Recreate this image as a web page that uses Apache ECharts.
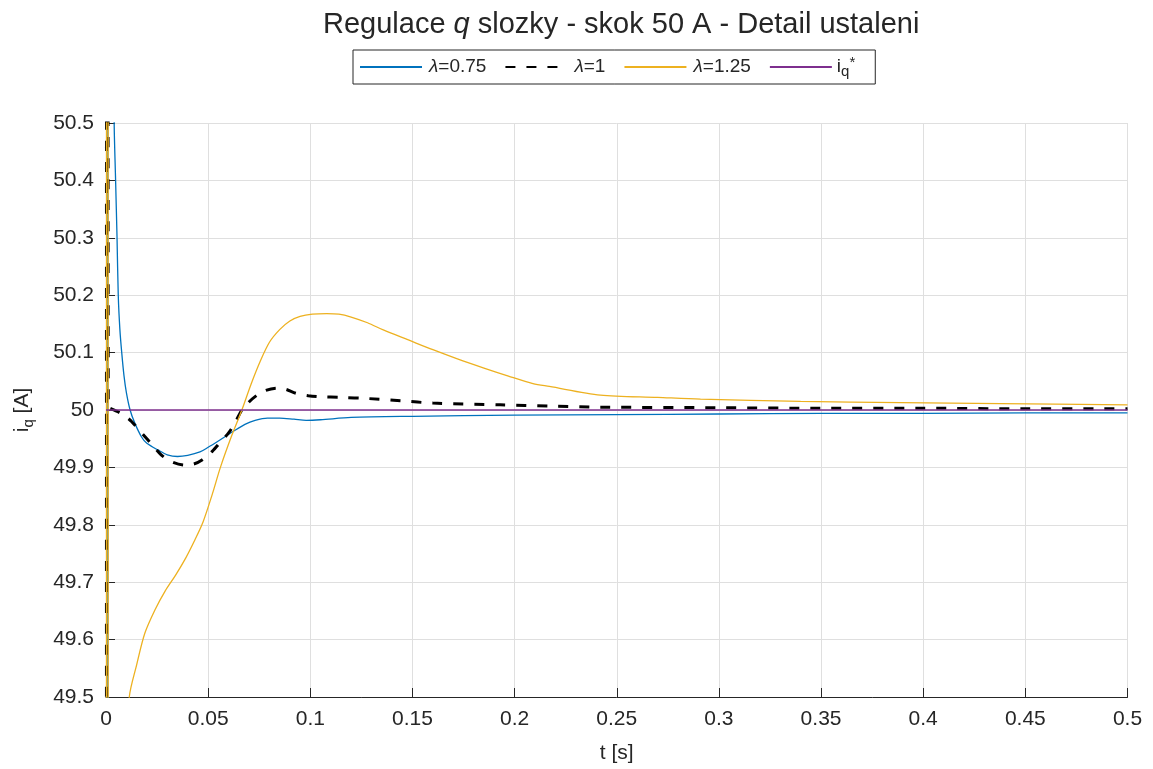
<!DOCTYPE html>
<html>
<head>
<meta charset="utf-8">
<script src="https://cdn.jsdelivr.net/npm/echarts@6/dist/echarts.min.js"></script>
<style>html,body{margin:0;padding:0;background:#fff}#c{width:1153px;height:769px}</style>
</head>
<body>
<div id="c"></div>
<script>
// ---- data ----
const xTicks = [0, 0.05, 0.1, 0.15, 0.2, 0.25, 0.3, 0.35, 0.4, 0.45, 0.5];
const yTicks = [49.5, 49.6, 49.7, 49.8, 49.9, 50, 50.1, 50.2, 50.3, 50.4, 50.5];

const tBlue = [0, 0.001, 0.002, 0.003, 0.004, 0.0047, 0.0054, 0.006, 0.0068, 0.0077, 0.0088, 0.010, 0.0118, 0.014, 0.0174, 0.020, 0.0256, 0.030, 0.035, 0.040, 0.046, 0.050, 0.055, 0.062, 0.068, 0.073, 0.079, 0.085, 0.092, 0.098, 0.105, 0.12, 0.15, 0.2, 0.25, 0.3, 0.35, 0.4, 0.45, 0.5];
const vBlue = [0, 54, 52, 51, 50.5, 50.4, 50.3, 50.2, 50.14, 50.1, 50.06, 50.03, 50.0, 49.978, 49.953, 49.942, 49.93, 49.922, 49.919, 49.921, 49.927, 49.935, 49.946, 49.962, 49.975, 49.982, 49.986, 49.986, 49.984, 49.982, 49.983, 49.987, 49.989, 49.991, 49.992, 49.993, 49.994, 49.994, 49.995, 49.995];

const tBlack = [0, 0.0004, 0.0011, 0.002, 0.0045, 0.0069, 0.0095, 0.0125, 0.018, 0.022, 0.027, 0.032, 0.0387, 0.043, 0.047, 0.052, 0.056, 0.060, 0.0635, 0.0665, 0.070, 0.074, 0.078, 0.0836, 0.088, 0.093, 0.099, 0.105, 0.115, 0.128, 0.145, 0.16, 0.193, 0.217, 0.242, 0.3, 0.35, 0.4, 0.45, 0.5];
const vBlack = [0, 58, 50.004, 50.003, 49.999, 49.995, 49.989, 49.98, 49.958, 49.942, 49.922, 49.91, 49.904, 49.906, 49.913, 49.928, 49.944, 49.96, 49.98, 50.0, 50.014, 50.026, 50.034, 50.038, 50.036, 50.029, 50.025, 50.023, 50.022, 50.02, 50.016, 50.012, 50.009, 50.007, 50.005, 50.004, 50.003, 50.003, 50.002, 50.002];

const tYellow = [0, 0.0004, 0.0008, 0.0013, 0.004, 0.008, 0.0114, 0.015, 0.019, 0.024, 0.029, 0.034, 0.039, 0.043, 0.0475, 0.052, 0.056, 0.0615, 0.0665, 0.071, 0.0755, 0.080, 0.085, 0.090, 0.095, 0.101, 0.108, 0.114, 0.120, 0.128, 0.136, 0.148, 0.16, 0.172, 0.185, 0.197, 0.209, 0.217, 0.242, 0.27, 0.291, 0.34, 0.389, 0.438, 0.5];
const vYellow = [0, 70, 70, 40, 48.8, 49.3, 49.5, 49.556, 49.611, 49.652, 49.685, 49.712, 49.742, 49.77, 49.805, 49.853, 49.9, 49.955, 50.0, 50.045, 50.085, 50.118, 50.14, 50.155, 50.163, 50.167, 50.168, 50.167, 50.162, 50.152, 50.139, 50.122, 50.105, 50.089, 50.073, 50.059, 50.046, 50.041, 50.026, 50.022, 50.019, 50.015, 50.013, 50.011, 50.009];

const tRef = [0, 0.5];
const vRef = [50, 50];

const seriesNames = ['l075', 'l1', 'l125', 'iref'];
// ------------------------------------------------

function zip(t, v) { return t.map((x, i) => [x, v[i]]); }

const FONT = '"Liberation Sans", Arial, Helvetica, sans-serif';
const TXT = '#262626';

const legendLabels = {
  l075: '{g|λ}{n|=0.75}',
  l1: '{g|λ}{n|=1}',
  l125: '{g|λ}{n|=1.25}',
  iref: '{n|i}{sub|q}{sup|*}'
};

const chart = echarts.init(document.getElementById('c'), null, {renderer: 'canvas'});
chart.setOption({
  animation: false,
  backgroundColor: '#ffffff',
  title: {
    text: '{n|Regulace }{it|q}{n| slozky - skok 50 A - Detail ustaleni}',
    left: 318,
    top: 5,
    textStyle: {
      fontWeight: 'normal',
      rich: {
        n: {fontFamily: FONT, fontSize: 29, color: TXT, fontWeight: 'normal'},
        it: {fontFamily: FONT, fontSize: 29, color: TXT, fontStyle: 'italic', fontWeight: 'normal'}
      }
    }
  },
  legend: {
    data: seriesNames,
    left: 353,
    top: 50,
    orient: 'horizontal',
    itemWidth: 62,
    itemHeight: 14,
    itemGap: 18,
    padding: [5, 20, 5, 6],
    borderColor: TXT,
    borderWidth: 1,
    itemStyle: {opacity: 0},
    formatter: function (name) { return legendLabels[name]; },
    textStyle: {
      rich: {
        g: {fontFamily: FONT, fontSize: 19, color: TXT, fontStyle: 'italic', lineHeight: 24, padding: [0, 0, 0, 2]},
        n: {fontFamily: FONT, fontSize: 19, color: TXT, lineHeight: 24},
        sub: {fontFamily: FONT, fontSize: 15, color: TXT, lineHeight: 12, verticalAlign: 'bottom'},
        sup: {fontFamily: FONT, fontSize: 15, color: TXT, lineHeight: 12, verticalAlign: 'top'}
      }
    }
  },
  grid: {left: 106, right: 25.5, top: 123, bottom: 72, containLabel: false},
  xAxis: {
    type: 'value',
    min: xTicks[0],
    max: xTicks[xTicks.length - 1],
    interval: xTicks[1] - xTicks[0],
    name: 't [s]',
    nameLocation: 'middle',
    nameGap: 46,
    nameTextStyle: {fontFamily: FONT, fontSize: 21, color: TXT},
    axisLine: {show: true, onZero: false, lineStyle: {color: TXT, width: 1}},
    axisTick: {show: true, inside: true, length: 9, lineStyle: {color: TXT}},
    axisLabel: {fontFamily: FONT, fontSize: 21, color: TXT, margin: 12},
    splitLine: {show: true, lineStyle: {color: '#dfdfdf', width: 1}}
  },
  yAxis: {
    type: 'value',
    min: yTicks[0],
    max: yTicks[yTicks.length - 1],
    interval: 0.1,
    name: '{n|i}{sub|q}{n| [A]}',
    nameLocation: 'middle',
    nameRotate: 90,
    nameGap: 70,
    nameTextStyle: {
      rich: {
        n: {fontFamily: FONT, fontSize: 21, color: TXT, lineHeight: 28},
        sub: {fontFamily: FONT, fontSize: 15, color: TXT, lineHeight: 14, verticalAlign: 'bottom'}
      }
    },
    axisLine: {show: true, onZero: false, lineStyle: {color: TXT, width: 1}},
    axisTick: {show: true, inside: true, length: 9, lineStyle: {color: TXT}},
    axisLabel: {
      fontFamily: FONT, fontSize: 21, color: TXT, margin: 12,
      formatter: function (v) { return Math.abs(v - 50) < 1e-9 ? '50' : v.toFixed(1); }
    },
    splitLine: {show: true, lineStyle: {color: '#dfdfdf', width: 1}}
  },
  series: [
    {
      name: 'l075', type: 'line', data: zip(tBlue, vBlue), showSymbol: false, symbol: 'none',
      smooth: 0.3, clip: true,
      lineStyle: {color: '#0072BD', width: 1.3}, itemStyle: {color: '#0072BD'}
    },
    {
      name: 'l1', type: 'line', data: zip(tBlack, vBlack), showSymbol: false, symbol: 'none',
      smooth: 0.3, clip: true,
      lineStyle: {color: '#000000', width: 3, type: [10, 11]}, itemStyle: {color: '#000000'}
    },
    {
      name: 'l125', type: 'line', data: zip(tYellow, vYellow), showSymbol: false, symbol: 'none',
      smooth: 0.3, clip: true,
      lineStyle: {color: '#EDB120', width: 1.3}, itemStyle: {color: '#EDB120'}
    },
    {
      name: 'iref', type: 'line', data: zip(tRef, vRef), showSymbol: false, symbol: 'none',
      clip: true,
      lineStyle: {color: '#7E2F8E', width: 1.3}, itemStyle: {color: '#7E2F8E'}
    }
  ]
});
</script>
</body>
</html>
